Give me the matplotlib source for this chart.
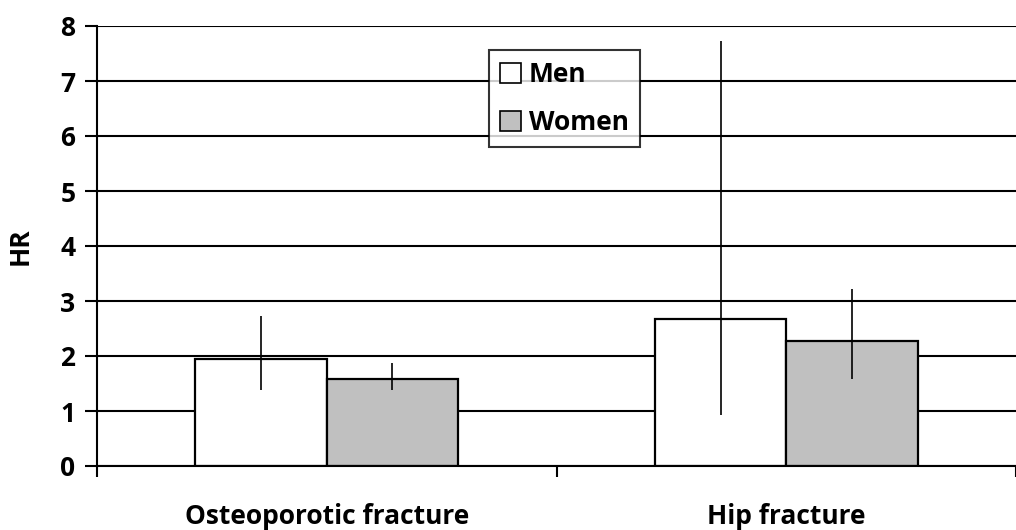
import matplotlib
matplotlib.use("Agg")
import matplotlib.pyplot as plt
import numpy as np

categories = ["Osteoporotic fracture", "Hip fracture"]
series_names = ["Men", "Women"]
men = [1.95, 2.67]
women = [1.58, 2.27]
men_low = [1.38, 0.92]
men_high = [2.73, 7.72]
women_low = [1.38, 1.59]
women_high = [1.87, 3.21]
yticks = [0, 1, 2, 3, 4, 5, 6, 7, 8]

plt.rcParams['font.family'] = ['Open Sans', 'DejaVu Sans']
plt.rcParams['font.weight'] = 'bold'
FS = 19

W, H = 1016, 530
fig = plt.figure(figsize=(W / 100, H / 100), dpi=100)
left, right, bottom, top = 97, 1016, 466, 26
ax = fig.add_axes([left / W, (H - bottom) / H, (right - left) / W, (bottom - top) / H])

x = np.arange(len(categories))
bw = 0.286
men_err = [np.array(men) - np.array(men_low), np.array(men_high) - np.array(men)]
women_err = [np.array(women) - np.array(women_low), np.array(women_high) - np.array(women)]

ax.bar(x - bw / 2, men, bw, color='white', edgecolor='black', linewidth=1.6,
       label=series_names[0], zorder=2)
ax.bar(x + bw / 2, women, bw, color='#C0C0C0', edgecolor='black', linewidth=1.6,
       label=series_names[1], zorder=2)
ax.errorbar(x - bw / 2, men, yerr=men_err, fmt='none', ecolor='black', elinewidth=1.2,
            capsize=0, zorder=3)
ax.errorbar(x + bw / 2, women, yerr=women_err, fmt='none', ecolor='black', elinewidth=1.2,
            capsize=0, zorder=3)

ax.set_xlim(-0.497, 1.478)
ax.set_ylim(0, 8)
ax.set_yticks(yticks)
ax.set_yticklabels([str(v) for v in yticks], fontsize=FS, fontweight='bold')
ax.yaxis.grid(True, color='black', linewidth=1.5, zorder=0)
ax.set_axisbelow(True)

ax.set_xticks(x)
ax.set_xticklabels(categories, fontsize=FS, fontweight='bold')
ax.tick_params(axis='x', which='major', length=0, pad=27)
ax.set_xticks([-0.5, 0.5, 1.5], minor=True)
ax.tick_params(axis='x', which='minor', length=8, width=1.5, direction='out')
ax.tick_params(axis='y', length=8.5, width=1.5, direction='out', pad=7)

for s in ['top', 'right']:
    ax.spines[s].set_visible(False)
ax.spines['left'].set_linewidth(1.5)
ax.spines['bottom'].set_linewidth(1.5)

ax.set_ylabel("HR", fontsize=FS, fontweight='bold')
ax.yaxis.set_label_coords(-(left - 34) / (right - left), 0.5)

leg = ax.legend(loc='upper left', bbox_to_anchor=(489 / W, 1 - 50 / H),
                bbox_transform=fig.transFigure, borderaxespad=0, fancybox=False,
                frameon=True, edgecolor='black', handlelength=0.8,
                handleheight=0.8, handletextpad=0.3, labelspacing=0.8, borderpad=0.42,
                prop={'weight': 'bold', 'size': FS})
leg.get_frame().set_linewidth(1.5)
for h in leg.legend_handles:
    h.set_linewidth(1.2)

fig.savefig("out.png", dpi=100)
